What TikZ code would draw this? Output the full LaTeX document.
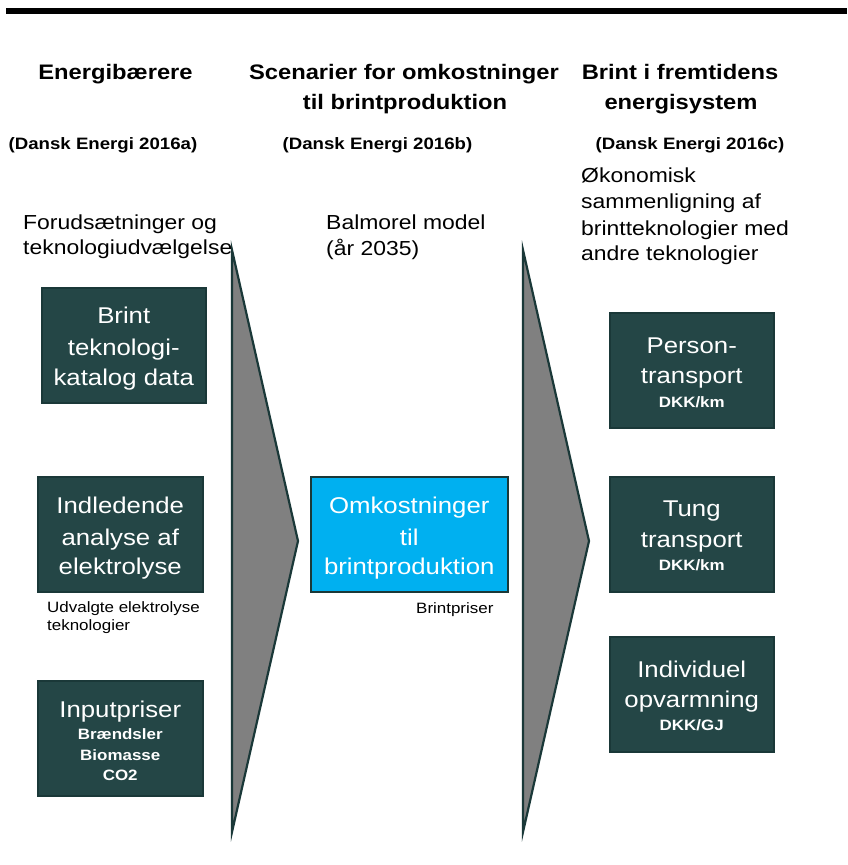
\documentclass[tikz,border=0pt]{standalone}
\usepackage{fontspec}
\setmainfont{Liberation Sans}[FakeStretch=1.13]
\usetikzlibrary{calc}
\definecolor{boxfill}{HTML}{244646}
\definecolor{boxline}{HTML}{1A3838}
\definecolor{chevfill}{HTML}{808080}
\definecolor{skyfill}{HTML}{00B0F0}
\begin{document}
\begin{tikzpicture}[x=1pt,y=-1pt,
  box/.style={draw=boxline, fill=boxfill, line width=1.5pt, minimum width=#1, minimum height=115pt, inner sep=0pt, anchor=north west},
  box/.default=165pt,
  bluebox/.style={box=197pt, fill=skyfill},
  btxt/.style={anchor=base, inner sep=0pt, text=white, font=\fontsize{22.8}{26}\selectfont},
  bsmall/.style={anchor=base, inner sep=0pt, text=white, font=\fontsize{15}{17}\selectfont\bfseries},
  hdr/.style={anchor=base, inner sep=0pt, font=\fontsize{21}{25}\selectfont\bfseries},
  cite/.style={anchor=base, inner sep=0pt, font=\fontsize{16.5}{20}\selectfont\bfseries},
  plain/.style={anchor=base west, inner sep=0pt, font=\fontsize{20.3}{24}\selectfont},
  small/.style={anchor=base west, inner sep=0pt, font=\fontsize{15}{17}\selectfont},
  chev/.style={fill=chevfill, draw=boxline, line width=2.2pt, line join=miter}]
\useasboundingbox (0,0) rectangle (847,865);
\fill[black] (6,8) rectangle (847,14);

% headers
\node[hdr] (h1) at (115.5,79) {Energibærere};
\node[hdr] (h2a) at (404,79) {Scenarier for omkostninger};
\node[hdr] (h2b) at (405,109) {til brintproduktion};
\node[hdr] (h3a) at (680,79) {Brint i fremtidens};
\node[hdr] (h3b) at (681,109) {energisystem};
\node[cite] (c1) at (103,149) {(Dansk Energi 2016a)};
\node[cite] (c2) at (377.5,149) {(Dansk Energi 2016b)};
\node[cite] (c3) at (690,149) {(Dansk Energi 2016c)};

% column notes
\node[plain] (p1a) at (23,229) {Forudsætninger og};
\node[plain] (p1b) at (23,254) {teknologiudvælgelse};
\node[plain] (p2a) at (326,229) {Balmorel model};
\node[plain] (p2b) at (326,255) {(år 2035)};
\node[plain] (p3a) at (581,182) {Økonomisk};
\node[plain] (p3b) at (581,208) {sammenligning af};
\node[plain] (p3c) at (581,235) {brintteknologier med};
\node[plain] (p3d) at (581,260) {andre teknologier};

% chevrons
\draw[chev] (232,250) -- (298,541) -- (232,832) -- cycle;
\draw[chev] (523,250) -- (589,541) -- (523,832) -- cycle;

% left boxes
\node[box=164pt] (b1) at (41,287) {};
\node[btxt] (b1a) at ($(b1.north)+(0,36)$) {Brint};
\node[btxt] (b1b) at ($(b1.north)+(0,68)$) {teknologi-};
\node[btxt] (b1c) at ($(b1.north)+(0,98)$) {katalog data};

\node[box] (b2) at (37,476) {};
\node[btxt] (b2a) at ($(b2.north)+(0,37)$) {Indledende};
\node[btxt] (b2b) at ($(b2.north)+(0,69)$) {analyse af};
\node[btxt] (b2c) at ($(b2.north)+(0,98)$) {elektrolyse};
\node[small] (u1) at (47,612) {Udvalgte elektrolyse};
\node[small] (u2) at (47,630) {teknologier};

\node[box] (b3) at (37,680) {};
\node[btxt] (b3a) at ($(b3.north)+(0,37)$) {Inputpriser};
\node[bsmall] (b3b) at ($(b3.north)+(0,59)$) {Brændsler};
\node[bsmall] (b3c) at ($(b3.north)+(0,80)$) {Biomasse};
\node[bsmall] (b3d) at ($(b3.north)+(0,100)$) {CO2};

% middle box
\node[bluebox] (m) at (310,476) {};
\node[btxt] (ma) at ($(m.north)+(0,37)$) {Omkostninger};
\node[btxt] (mb) at ($(m.north)+(0,69)$) {til};
\node[btxt] (mc) at ($(m.north)+(0,98)$) {brintproduktion};
\node[small] (bp) at (416,613) {Brintpriser};

% right boxes
\node[box=164pt] (r1) at (609,312) {};
\node[btxt] (r1a) at ($(r1.north)+(0,41)$) {Person-};
\node[btxt] (r1b) at ($(r1.north)+(0,71)$) {transport};
\node[bsmall] (r1c) at ($(r1.north)+(0,95)$) {DKK/km};

\node[box=164pt] (r2) at (609,476) {};
\node[btxt] (r2a) at ($(r2.north)+(0,40)$) {Tung};
\node[btxt] (r2b) at ($(r2.north)+(0,71)$) {transport};
\node[bsmall] (r2c) at ($(r2.north)+(0,94)$) {DKK/km};

\node[box=164pt] (r3) at (609,636) {};
\node[btxt] (r3a) at ($(r3.north)+(0,41)$) {Individuel};
\node[btxt] (r3b) at ($(r3.north)+(0,71)$) {opvarmning};
\node[bsmall] (r3c) at ($(r3.north)+(0,94)$) {DKK/GJ};
\end{tikzpicture}
\end{document}
